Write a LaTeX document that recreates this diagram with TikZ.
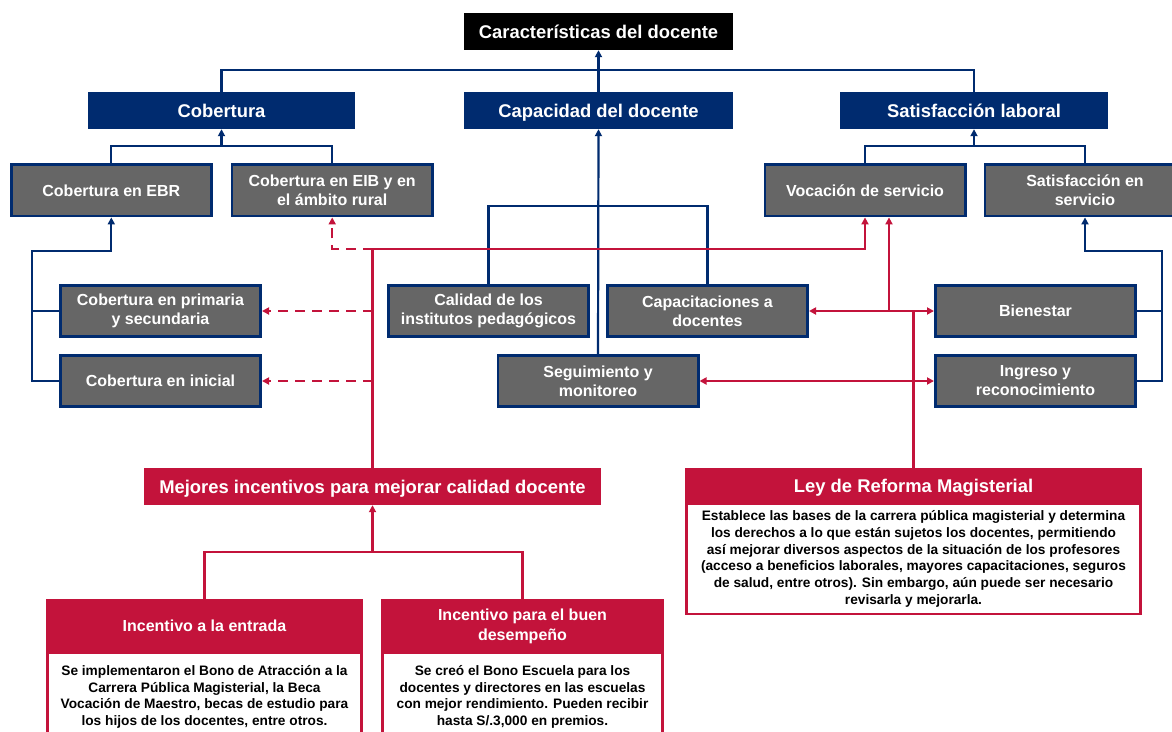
\documentclass[tikz,border=0pt]{standalone}
\usepackage{fontspec}
\setmainfont{Liberation Sans}
\usetikzlibrary{arrows.meta}
\definecolor{navy}{HTML}{002B6F}
\definecolor{boxgray}{HTML}{666666}
\definecolor{crimson}{HTML}{C3133B}

\tikzset{
  hd/.style={font=\bfseries\fontsize{18.4}{22}\selectfont,text=white,inner sep=0pt,minimum height=37pt,
    text height=13.3pt,text depth=0pt},
  navybox/.style={hd,fill=navy},
  redbar/.style={hd,fill=crimson},
  gr/.style={fill=boxgray,draw=navy,line width=2.7pt,text=white,align=center,inner sep=0pt,
    font=\bfseries\fontsize{16}{19}\selectfont,minimum width=200.3pt,minimum height=51.5pt},
  redhd/.style={fill=crimson,text=white,align=center,inner sep=0pt,minimum height=54pt,
    font=\bfseries\fontsize{16}{20}\selectfont},
  redbody/.style={draw=crimson,line width=2.6pt,fill=white,anchor=north,align=center,inner sep=0pt,
    font=\bfseries\fontsize{13.7}{16.7}\selectfont},
  bl/.style={draw=navy,line width=2.2pt},
  rl/.style={draw=crimson,line width=2.2pt},
  rdash/.style={rl,dash pattern=on 10pt off 7pt},
  uptip/.style={-{Triangle[length=7pt,width=7pt]}},
  bothtips/.style={{Triangle[length=7pt,width=7pt]}-{Triangle[length=7pt,width=7pt]}}
}

\begin{document}
\begin{tikzpicture}[x=1pt,y=-1pt]
      \useasboundingbox (0,0) rectangle (1172,731);
      \clip (0,0) rectangle (1172,731);

      \path
      (598.5,31.5) node[hd,fill=black,minimum width=269pt](cara) {Características del docente}
      (221.5,110.5) node[navybox,minimum width=267pt](cob) {Cobertura}
      (598.5,110.5) node[navybox,minimum width=269pt](cap) {Capacidad del docente}
      (974,110.5) node[navybox,minimum width=268pt](sat) {Satisfacción laboral}
      ;
      \path
      (111.3,190.3) node[gr](ebr) {Cobertura en EBR}
      (332.2,190.3) node[gr](eib) {Cobertura en EIB y en\\el ámbito rural}
      (865,190.3) node[gr](voc) {Vocación de servicio}
      (1085,190.3) node[gr](ssv) {Satisfacción en\\servicio}
      ;
      \path
      (160.5,311) node[gr](prim) {Cobertura en primaria\\y secundaria}
      (160.5,381) node[gr](ini) {Cobertura en inicial}
      (488.5,311) node[gr](cal) {Calidad de los\\institutos pedagógicos}
      (707.5,311) node[gr](capd) {Capacitaciones a\\docentes}
      (598,381) node[gr](seg) {Seguimiento y\\monitoreo}
      (1035.5,311) node[gr](bie) {Bienestar}
      (1035.5,381) node[gr](ing) {Ingreso y\\reconocimiento}
      ;
      \path
      (372.5,486.5) node[redbar,minimum width=457pt](mej) {Mejores incentivos para mejorar calidad docente}
      (913.5,486) node[redbar,minimum width=457pt,minimum height=36pt](leyh) {Ley de Reforma Magisterial}
      (913.5,502.7) node[redbody,minimum width=454.4pt,minimum height=110pt](leyb)
        {Establece las bases de la carrera pública magisterial y determina\\los derechos a lo que están sujetos los docentes, permitiendo\\así mejorar diversos aspectos de la situación de los profesores\\(acceso a beneficios laborales, mayores capacitaciones, seguros\\de salud, entre otros). Sin embargo, aún puede ser necesario\\revisarla y mejorarla.}
      ;
      \path
      (204.5,626) node[redhd,minimum width=317pt](enth) {Incentivo a la entrada}
      (204.5,651.7) node[redbody,minimum width=314.4pt,minimum height=88pt](entb)
        {Se implementaron el Bono de Atracción a la\\Carrera Pública Magisterial, la Beca\\Vocación de Maestro, becas de estudio para\\los hijos de los docentes, entre otros.}
      (522.5,626) node[redhd,minimum width=283pt](desh) {Incentivo para el buen\\desempeño}
      (522.5,651.7) node[redbody,minimum width=280.4pt,minimum height=88pt](desb)
        {Se creó el Bono Escuela para los\\docentes y directores en las escuelas\\con mejor rendimiento. Pueden recibir\\hasta S/.3,000 en premios.}
      ;

      \coordinate (cobj) at (221.5,146);
      \coordinate (satj) at (974,146);
      \coordinate (capj) at (598.5,206);
      \coordinate (lbr) at (32,251);
      \coordinate (rbr) at (1162,251);
      \coordinate (mejj) at (372.5,249);
      \coordinate (vocj) at (889,311);
      \coordinate (leyj) at (913.5,311);
      \coordinate (incj) at (372.5,552);

      \draw[bl] (cob.north) -- ++(0,-22) -| (sat.north);
      \draw[bl,uptip] (cap.north) -- (cara.south);
      \draw[bl] (ebr.north) |- (cobj) -| (eib.north);
      \draw[bl,uptip] (cobj) -- (cob.south);
      \draw[bl] (voc.north) |- (satj) -| (ssv.north);
      \draw[bl,uptip] (satj) -- (sat.south);
      \draw[bl,uptip] (seg.north) -- (cap.south);
      \draw[bl] (cal.north) |- (capj) -| (capd.north);
      \draw[bl,uptip] (ini.west) -| (lbr) -| (ebr.south);
      \draw[bl] (prim.west) -- (prim.west -| lbr);
      \draw[bl,uptip] (ing.east) -| (rbr) -| (ssv.south);
      \draw[bl] (bie.east) -- (bie.east -| rbr);

      \draw[rl] (mej.north) -- (mejj);
      \draw[rl,uptip] (mejj) -| (voc.south);
      \draw[rdash,uptip] (mejj) -| (eib.south);
      \draw[rdash,uptip] (mej.north |- prim.east) -- (prim.east);
      \draw[rdash,uptip] (mej.north |- ini.east) -- (ini.east);
      \draw[rl] (enth.north) |- (incj) -| (desh.north);
      \draw[rl,uptip] (incj) -- (mej.south);

      \draw[rl] (leyh.north) -- (leyj);
      \draw[rl,bothtips] (capd.east) -- (bie.west);
      \draw[rl,bothtips] (seg.east) -- (ing.west);
      \draw[rl,uptip] (vocj) -- (vocj |- voc.south);
    \end{tikzpicture}
\end{document}
